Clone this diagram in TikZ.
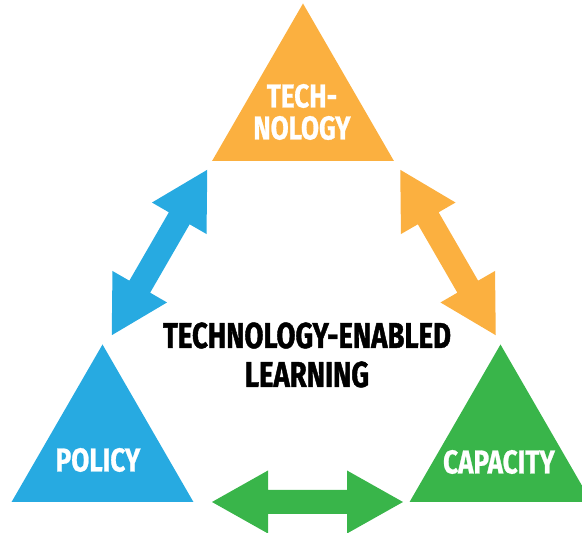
\documentclass[tikz,border=0pt]{standalone}
\usepackage{fontspec}
\newfontfamily\condbold{Fira Sans Bold}[FakeStretch=0.765, FakeBold=1.2]
\newfontfamily\pillarbold{Fira Sans Bold}[FakeStretch=0.79, FakeBold=0.8]
\usetikzlibrary{shapes.geometric}
\definecolor{techorange}{HTML}{FBB040}
\definecolor{policyblue}{HTML}{27AAE1}
\definecolor{capgreen}{HTML}{39B54A}
\tikzset{
  x=1pt, y=1pt,
  pillar/.style={regular polygon, regular polygon sides=3, minimum size=210pt,
    inner sep=0pt, outer sep=0pt, draw=none},
  pillartext/.style={text=white, align=center, inner sep=0pt,
    font=\pillarbold\fontsize{33}{32}\selectfont},
  centertext/.style={text=black, align=center, inner sep=0pt,
    font=\condbold\fontsize{36}{39}\selectfont},
  pics/dblarrow/.style={code={
    \fill (-95.5,0) -- (-39.5,31.5) -- (-39.5,12) -- (39.5,12) -- (39.5,31.5)
      -- (95.5,0) -- (39.5,-31.5) -- (39.5,-12) -- (-39.5,-12) -- (-39.5,-31.5)
      -- cycle;
  }}
}
\begin{document}
\begin{tikzpicture}
  \useasboundingbox (0,0) rectangle (582,533);
  % the three pillars
  \node[pillar, fill=techorange] (tech) at (303,424.5) {};
  \node[pillar, fill=policyblue] (policy) at (102.5,83.5) {};
  \node[pillar, fill=capgreen] (capacity) at (500.5,83.5) {};
  % pillar labels
  \node[pillartext] (techlabel) at (302,421) {TECH-\\NOLOGY};
  \node[pillartext] (policylabel) at (98,73) {POLICY};
  \node[pillartext] (capacitylabel) at (499,71) {CAPACITY};
  % centre title
  \node[centertext] (tel) at (307,178) {TECHNOLOGY-ENABLED\\LEARNING};
  % two-way links between the pillars
  \coordinate (ptlink) at (159.5,280.5);
  \coordinate (tclink) at (448,280.5);
  \coordinate (pclink) at (307.5,31);
  \pic[fill=policyblue, rotate=60] at (ptlink) {dblarrow};
  \pic[fill=techorange, rotate=-60] at (tclink) {dblarrow};
  \pic[fill=capgreen] at (pclink) {dblarrow};
\end{tikzpicture}
\end{document}
